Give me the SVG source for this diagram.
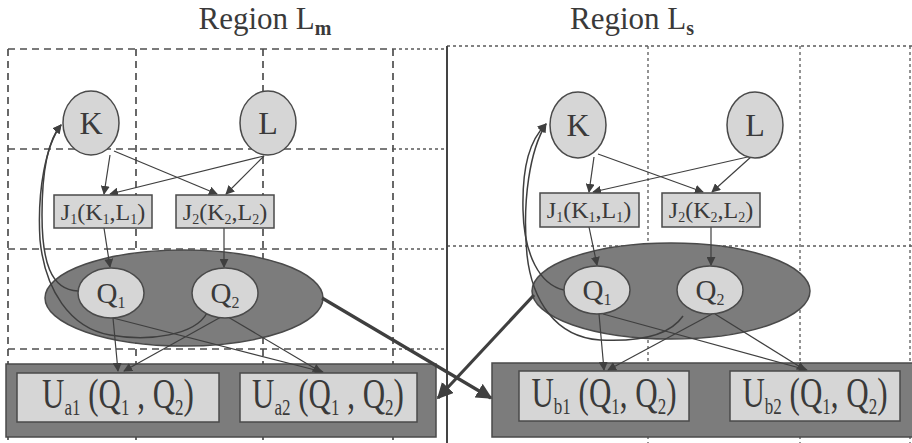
<svg xmlns="http://www.w3.org/2000/svg" width="912" height="443" viewBox="0 0 912 443">
<defs>
<style>
.dash{stroke:#4f4f4f;stroke-width:1.7;stroke-dasharray:7,5;fill:none}
.dot{stroke:#5a5a5a;stroke-width:1.3;stroke-dasharray:3,3;fill:none}
.node{fill:#d6d6d6;stroke:#4a4a4a;stroke-width:1.5}
.big{fill:#7c7c7c;stroke:#4a4a4a;stroke-width:1.5}
.box{fill:#d6d6d6;stroke:#4a4a4a;stroke-width:1.5}
.cont{fill:#7c7c7c;stroke:#4a4a4a;stroke-width:1.5}
.t{font-family:"Liberation Serif",serif;fill:#3a3a3a;text-anchor:middle}
.c{stroke:#3f3f3f;stroke-width:1.2;fill:none;marker-end:url(#ah)}
.ck{stroke:#3f3f3f;stroke-width:1.5;fill:none;marker-end:url(#ah)}
.thick{stroke:#3f3f3f;stroke-width:3.2;fill:none;marker-end:url(#ahb)}
</style>
<marker id="ah" viewBox="0 0 10 10" refX="9" refY="5" markerWidth="9" markerHeight="9" markerUnits="userSpaceOnUse" orient="auto"><path d="M0,0 L10,5 L0,10 z" fill="#3f3f3f"/></marker>
<marker id="ahb" viewBox="0 0 10 10" refX="9" refY="5" markerWidth="16" markerHeight="16" markerUnits="userSpaceOnUse" orient="auto"><path d="M0,0 L10,5 L0,10 z" fill="#3f3f3f"/></marker>
</defs>
<rect width="912" height="443" fill="#ffffff"/>

<g id="grid">
<path class="dash" d="M8,49 V443 M136,49 V443 M263,49 V443 M393,49 V443 M8,49 H393 M8,149 H393 M8,249 H393 M8,349 H393"/>
<path class="dot" d="M393,49 H447 M393,149 H447 M393,249 H447 M393,349 H447"/>
<path class="dot" d="M447,46 H912 M447,246 H912 M648,46 V443 M800,46 V443 M910,46 V443"/>
<line x1="447" y1="46" x2="447" y2="443" stroke="#444" stroke-width="2"/>
</g>

<g id="title-m"><text class="t" x="265" y="29" font-size="31">Region L<tspan font-size="20" font-weight="bold" dy="6">m</tspan></text></g>
<g id="title-s"><text class="t" x="632" y="29" font-size="31">Region L<tspan font-size="20" font-weight="bold" dy="6">s</tspan></text></g>

<g id="Ua"><rect class="cont" x="6" y="364" width="430" height="73"/></g>
<g id="Ub"><rect class="cont" x="492" y="363" width="422" height="74"/></g>
<g id="Qm"><ellipse class="big" cx="184" cy="298" rx="139" ry="48"/></g>
<g id="Qs"><ellipse class="big" cx="671" cy="291" rx="139" ry="48"/></g>

<g id="connectors">
<path class="c" d="M110,155 L104,194"/>
<path class="c" d="M114,151 L217,194"/>
<path class="c" d="M264,156 L110,194"/>
<path class="c" d="M264,156 L226,194"/>
<path class="c" d="M104,228 L110,267"/>
<path class="c" d="M224,228 L224,267"/>
<path class="c" d="M113,318 L118,371"/>
<path class="c" d="M113,318 L323,372"/>
<path class="c" d="M221,317 L124,371"/>
<path class="c" d="M228,317 L321,372"/>
<path class="ck" d="M78,291 C50,290 42,260 42,215 C42,170 48,140 61,125"/>
<path class="ck" d="M207,313 C195,335 150,342 110,335 C70,328 45,290 40,240 C37,190 46,145 61,125"/>
<path class="c" d="M594,157 L589,192"/>
<path class="c" d="M598,154 L703,192"/>
<path class="c" d="M752,156 L593,192"/>
<path class="c" d="M752,156 L712,192"/>
<path class="c" d="M589,227 L597,265"/>
<path class="c" d="M711,227 L711,265"/>
<path class="c" d="M599,314 L604,370"/>
<path class="c" d="M603,314 L807,370"/>
<path class="c" d="M712,314 L608,370"/>
<path class="c" d="M715,314 L805,370"/>
<path class="ck" d="M564,290 C540,285 524,255 523,210 C522,165 530,140 546,124"/>
<path class="ck" d="M683,316 C670,335 640,342 600,340 C555,337 532,300 527,255 C522,200 530,150 546,124"/>
<path class="thick" d="M322,298 L491,398"/>
<path class="thick" d="M534,295 L438,398"/>
</g>

<g id="Km"><ellipse class="node" cx="91" cy="123" rx="28" ry="32"/><text class="t" x="91" y="134" font-size="32">K</text></g>
<g id="Lm"><ellipse class="node" cx="268" cy="123" rx="28" ry="32"/><text class="t" x="268" y="134" font-size="32">L</text></g>
<g id="J1m"><rect class="box" x="54" y="195" width="98" height="33"/><text class="t" x="103" y="220" font-size="24">J<tspan font-size="14" dy="4">1</tspan><tspan dy="-4">(K</tspan><tspan font-size="14" dy="4">1</tspan><tspan dy="-4">,L</tspan><tspan font-size="14" dy="4">1</tspan><tspan dy="-4">)</tspan></text></g>
<g id="J2m"><rect class="box" x="176" y="195" width="98" height="33"/><text class="t" x="225" y="220" font-size="24">J<tspan font-size="14" dy="4">2</tspan><tspan dy="-4">(K</tspan><tspan font-size="14" dy="4">2</tspan><tspan dy="-4">,L</tspan><tspan font-size="14" dy="4">2</tspan><tspan dy="-4">)</tspan></text></g>
<g id="Q1m"><ellipse class="node" cx="111" cy="293" rx="33" ry="25"/><text class="t" x="111" y="303" font-size="29">Q<tspan font-size="16" dy="5">1</tspan></text></g>
<g id="Q2m"><ellipse class="node" cx="225" cy="293" rx="33" ry="25"/><text class="t" x="225" y="303" font-size="29">Q<tspan font-size="16" dy="5">2</tspan></text></g>
<g id="Ua1"><rect class="box" x="17" y="373" width="202" height="49"/><text class="t" transform="translate(118 408) scale(1 1.35)" font-size="31">U<tspan font-size="17" dy="5">a1</tspan><tspan dy="-5"> (Q</tspan><tspan font-size="17" dy="5">1</tspan><tspan dy="-5"> , Q</tspan><tspan font-size="17" dy="5">2</tspan><tspan dy="-5">)</tspan></text></g>
<g id="Ua2"><rect class="box" x="240" y="373" width="177" height="49"/><text class="t" transform="translate(328 408) scale(1 1.35)" font-size="31">U<tspan font-size="17" dy="5">a2</tspan><tspan dy="-5"> (Q</tspan><tspan font-size="17" dy="5">1</tspan><tspan dy="-5"> , Q</tspan><tspan font-size="17" dy="5">2</tspan><tspan dy="-5">)</tspan></text></g>

<g id="Ks"><ellipse class="node" cx="578" cy="125" rx="28" ry="33"/><text class="t" x="578" y="136" font-size="32">K</text></g>
<g id="Ls"><ellipse class="node" cx="755" cy="125" rx="28" ry="33"/><text class="t" x="755" y="136" font-size="32">L</text></g>
<g id="J1s"><rect class="box" x="540" y="193" width="99" height="34"/><text class="t" x="589" y="218" font-size="24">J<tspan font-size="14" dy="4">1</tspan><tspan dy="-4">(K</tspan><tspan font-size="14" dy="4">1</tspan><tspan dy="-4">,L</tspan><tspan font-size="14" dy="4">1</tspan><tspan dy="-4">)</tspan></text></g>
<g id="J2s"><rect class="box" x="662" y="193" width="98" height="34"/><text class="t" x="711" y="218" font-size="24">J<tspan font-size="14" dy="4">2</tspan><tspan dy="-4">(K</tspan><tspan font-size="14" dy="4">2</tspan><tspan dy="-4">,L</tspan><tspan font-size="14" dy="4">2</tspan><tspan dy="-4">)</tspan></text></g>
<g id="Q1s"><ellipse class="node" cx="597" cy="290" rx="33" ry="24"/><text class="t" x="597" y="300" font-size="29">Q<tspan font-size="16" dy="5">1</tspan></text></g>
<g id="Q2s"><ellipse class="node" cx="710" cy="290" rx="33" ry="24"/><text class="t" x="710" y="300" font-size="29">Q<tspan font-size="16" dy="5">2</tspan></text></g>
<g id="Ub1"><rect class="box" x="519" y="371" width="170" height="50"/><text class="t" transform="translate(604 407) scale(1 1.35)" font-size="31">U<tspan font-size="17" dy="5">b1</tspan><tspan dy="-5"> (Q</tspan><tspan font-size="17" dy="5">1</tspan><tspan dy="-5">, Q</tspan><tspan font-size="17" dy="5">2</tspan><tspan dy="-5">)</tspan></text></g>
<g id="Ub2"><rect class="box" x="730" y="371" width="170" height="50"/><text class="t" transform="translate(815 407) scale(1 1.35)" font-size="31">U<tspan font-size="17" dy="5">b2</tspan><tspan dy="-5"> (Q</tspan><tspan font-size="17" dy="5">1</tspan><tspan dy="-5">, Q</tspan><tspan font-size="17" dy="5">2</tspan><tspan dy="-5">)</tspan></text></g>
</svg>
